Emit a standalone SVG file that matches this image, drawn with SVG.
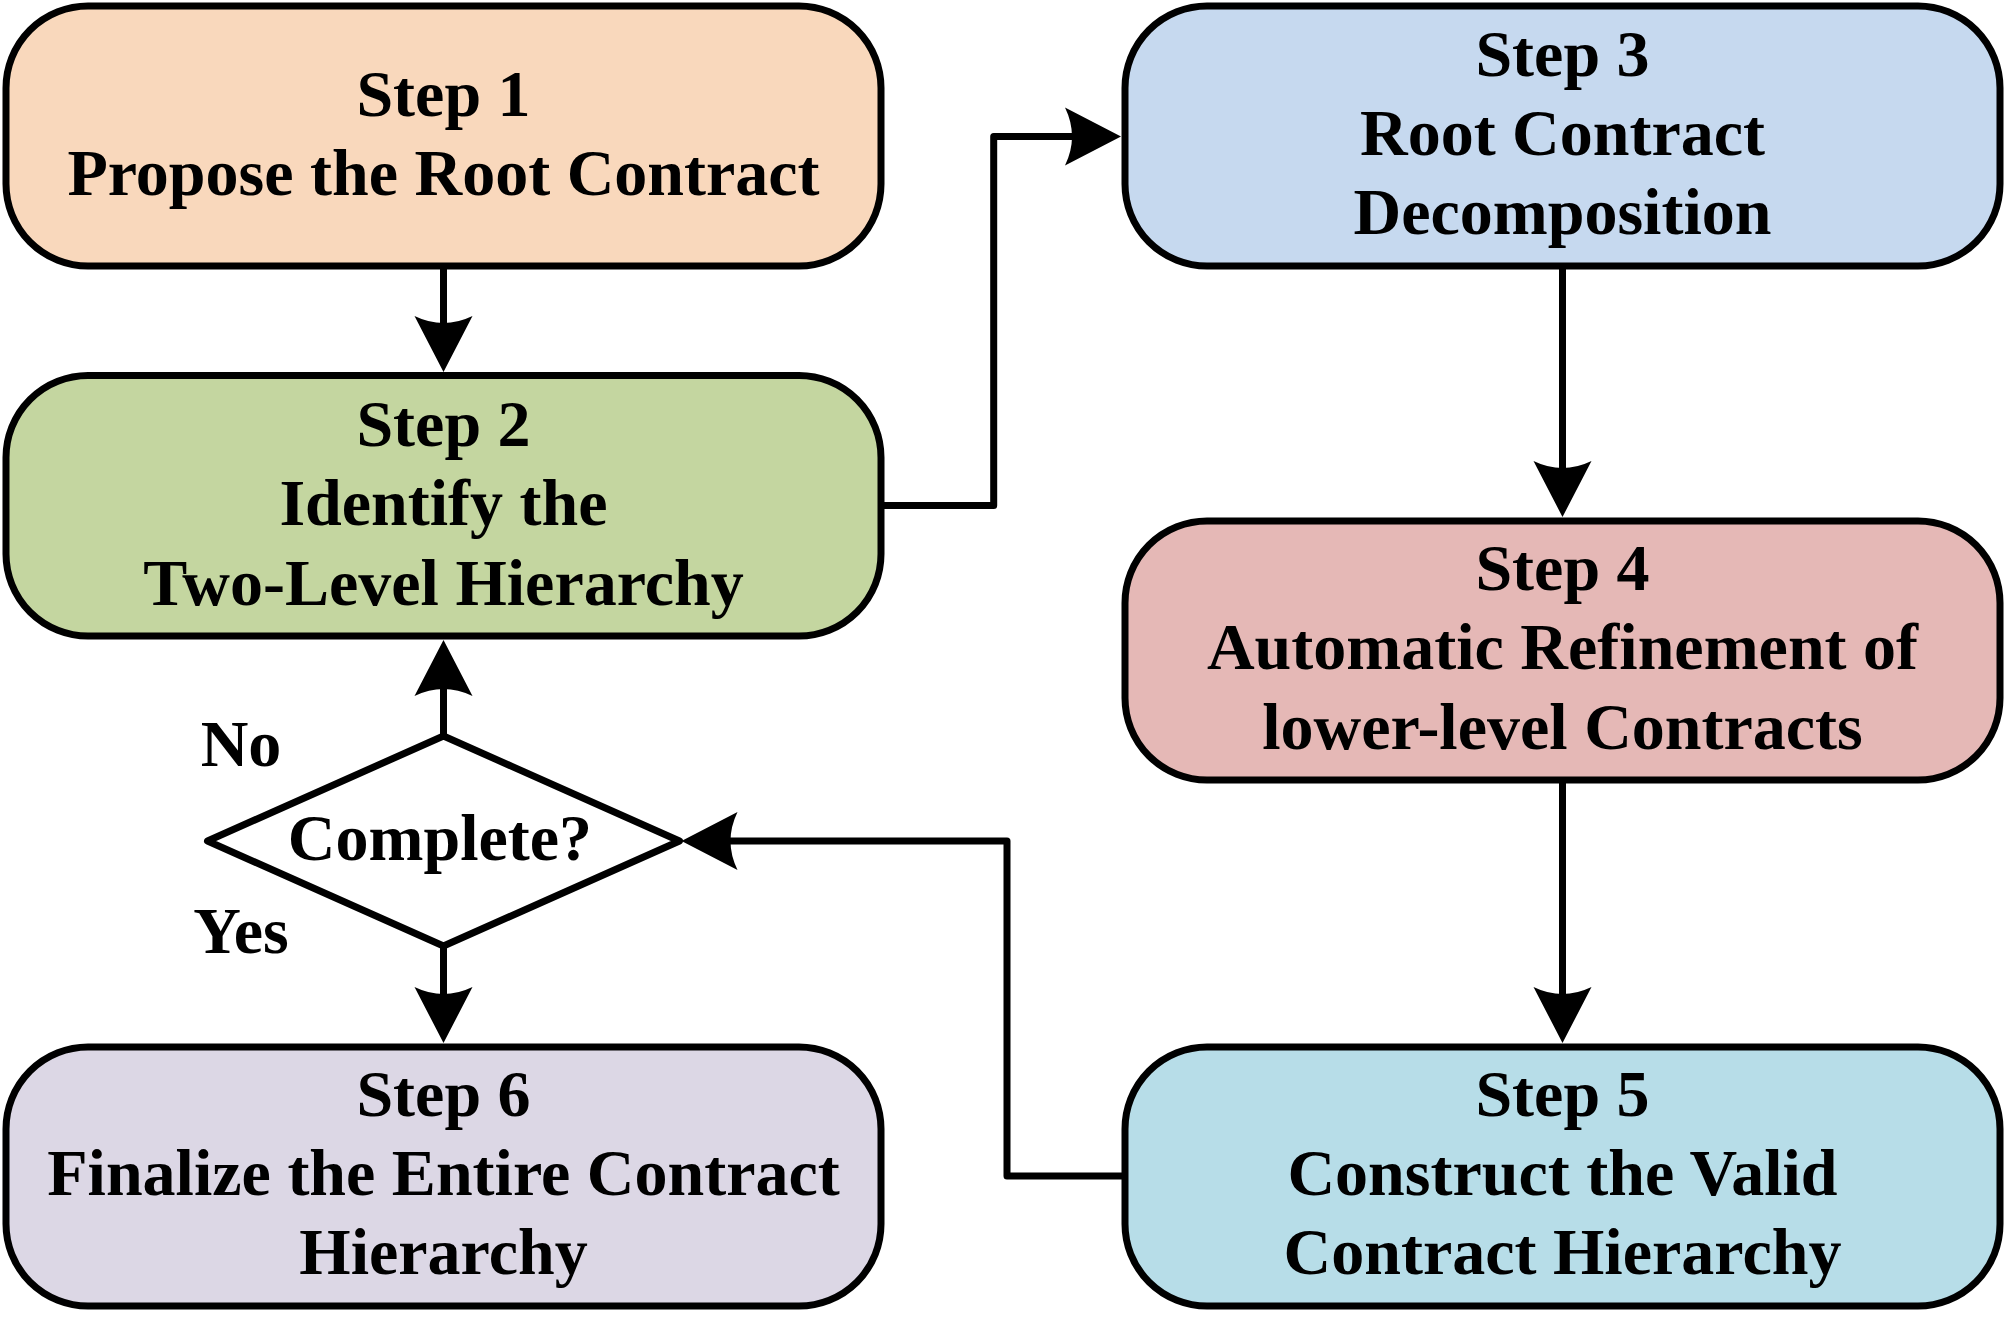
<svg xmlns="http://www.w3.org/2000/svg" width="2006" height="1325" viewBox="0 0 2006 1325">
<style>
.box{stroke:#000;stroke-width:7}
.t{font-family:"Liberation Serif","Times New Roman",serif;font-weight:bold;font-size:66px;fill:#000;text-anchor:middle}
.conn{fill:none;stroke:#000;stroke-width:7;stroke-linejoin:round}
</style>
<defs>
<marker id="ah" viewBox="0 -29 56 58" refX="16" refY="0" markerWidth="56" markerHeight="58" markerUnits="userSpaceOnUse" orient="auto" overflow="visible">
<path d="M56,0 L0,-29 Q14,0 0,29 Z" fill="#000"/>
</marker>
</defs>
<rect width="2006" height="1325" fill="#fff"/>
<g id="connectors">
<path class="conn" d="M443.5,269 V332" marker-end="url(#ah)"/>
<path class="conn" d="M881,505.5 H993.7 V136.5 H1081" marker-end="url(#ah)"/>
<path class="conn" d="M1562.5,269 V477" marker-end="url(#ah)"/>
<path class="conn" d="M1562.5,783 V1003" marker-end="url(#ah)"/>
<path class="conn" d="M1125,1176 H1007 V841 H721.5" marker-end="url(#ah)"/>
<path class="conn" d="M443.5,736 V680" marker-end="url(#ah)"/>
<path class="conn" d="M443.5,946 V1003" marker-end="url(#ah)"/>
</g>
<g id="step1">
<rect class="box" x="6" y="6" width="875" height="260" rx="82" ry="82" fill="#F9D8BC"/>
<text class="t" x="443.5" y="116">Step 1</text>
<text class="t" x="443.5" y="195">Propose the Root Contract</text>
</g>
<g id="step2">
<rect class="box" x="6" y="375.5" width="875" height="260.5" rx="82" ry="82" fill="#C4D6A0"/>
<text class="t" x="443.5" y="445.5">Step 2</text>
<text class="t" x="443.5" y="525">Identify the</text>
<text class="t" x="443.5" y="604.5">Two-Level Hierarchy</text>
</g>
<g id="step3">
<rect class="box" x="1125" y="6" width="875" height="260" rx="82" ry="82" fill="#C6D9EF"/>
<text class="t" x="1562.5" y="76">Step 3</text>
<text class="t" x="1562.5" y="155">Root Contract</text>
<text class="t" x="1562.5" y="234">Decomposition</text>
</g>
<g id="step4">
<rect class="box" x="1125" y="521" width="875" height="259" rx="82" ry="82" fill="#E5B8B6"/>
<text class="t" x="1562.5" y="590">Step 4</text>
<text class="t" x="1562.5" y="669">Automatic Refinement of</text>
<text class="t" x="1562.5" y="748.5">lower-level Contracts</text>
</g>
<g id="step5">
<rect class="box" x="1125" y="1047" width="875" height="259" rx="82" ry="82" fill="#B7DDE8"/>
<text class="t" x="1562.5" y="1116">Step 5</text>
<text class="t" x="1562.5" y="1195">Construct the Valid</text>
<text class="t" x="1562.5" y="1274">Contract Hierarchy</text>
</g>
<g id="step6">
<rect class="box" x="6" y="1047" width="875" height="259" rx="82" ry="82" fill="#DCD7E5"/>
<text class="t" x="443.5" y="1116">Step 6</text>
<text class="t" x="443.5" y="1195">Finalize the Entire Contract</text>
<text class="t" x="443.5" y="1274">Hierarchy</text>
</g>
<g id="decision">
<path class="box" d="M443.5,736 L679.5,841 L443.5,946 L207.5,841 Z" fill="#fff" stroke-linejoin="round"/>
<text class="t" x="440" y="860">Complete?</text>
</g>
<g id="labels">
<text class="t" x="241" y="766">No</text>
<text class="t" x="241" y="953">Yes</text>
</g>
</svg>
